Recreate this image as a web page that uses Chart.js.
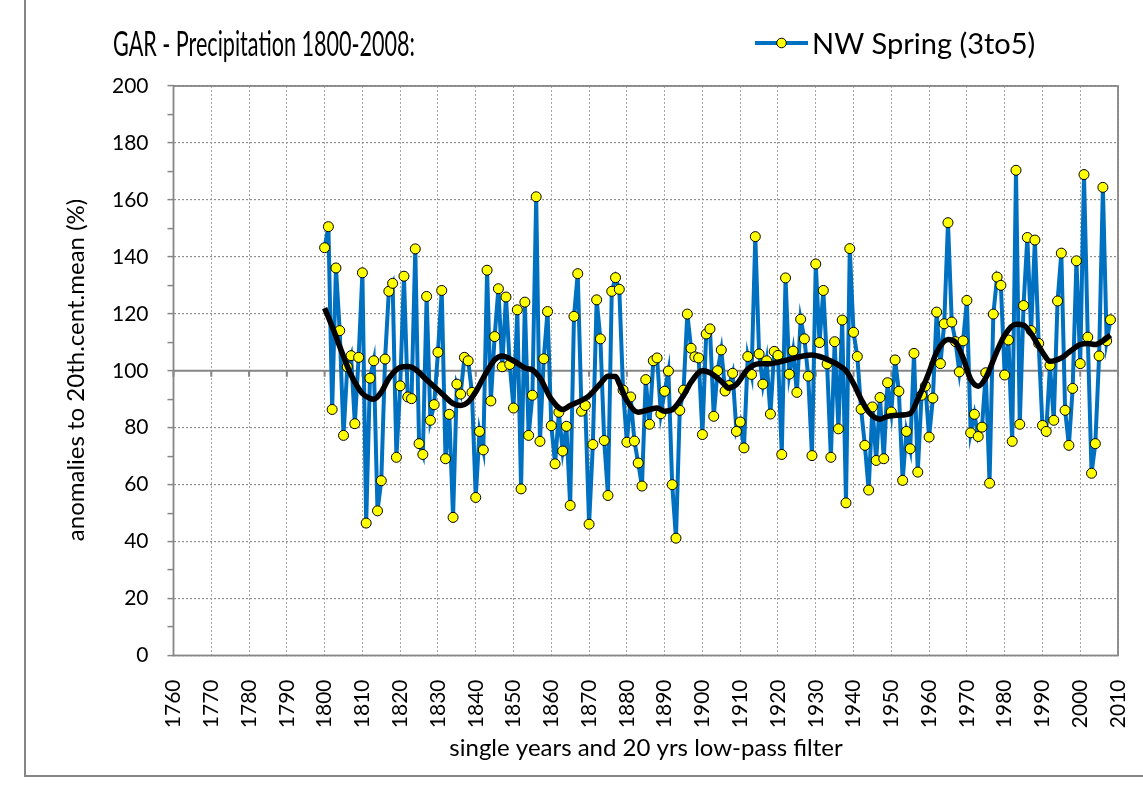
<!DOCTYPE html>
<html><head><meta charset="utf-8">
<script src="https://cdn.jsdelivr.net/npm/chart.js@4/dist/chart.umd.min.js"></script>
<style>
html,body{margin:0;padding:0;background:#fff;}
canvas{display:block;}
</style></head><body>
<canvas id="c" width="1143" height="796"></canvas>
<script>
// ---- data ----
const firstYear = 1800;
const precip = [
 143.2,150.6,86.4,136.1,114.1,77.3,101.4,105.3,81.4,104.7,   // 1800s
 134.4,46.5,97.4,103.5,50.8,61.4,104.1,127.9,130.7,69.6,     // 1810s
 94.7,133.2,90.8,90.2,142.8,74.4,70.6,126.1,82.6,88.1,       // 1820s
 106.5,128.2,69.1,84.7,48.5,95.3,91.8,104.7,103.5,92.4,      // 1830s
 55.5,78.7,72.2,135.3,89.4,112.0,128.8,101.4,125.9,102.2,    // 1840s
 86.9,121.4,58.5,124.1,77.3,91.4,161.1,75.2,104.2,120.8,     // 1850s
 80.7,67.3,85.4,71.8,80.5,52.7,119.1,134.1,85.8,87.8,        // 1860s
 46.1,74.1,124.9,111.2,75.5,56.2,127.9,132.7,128.6,93.2,     // 1870s
 74.9,90.8,75.3,67.6,59.5,96.9,81.2,103.5,104.5,84.9,        // 1880s
 92.8,99.9,60.0,41.2,86.1,93.2,119.9,107.9,104.9,104.5,      // 1890s
 77.6,112.9,114.7,84.0,100.0,107.3,92.9,94.8,99.1,78.7,      // 1900s
 82.0,72.9,105.0,98.7,147.1,105.9,95.3,103.5,84.8,106.8,     // 1910s
 105.4,70.6,132.6,98.8,106.9,92.4,118.1,111.2,98.1,70.2,     // 1920s
 137.5,109.9,128.2,102.4,69.6,110.2,79.6,117.8,53.6,142.9,   // 1930s
 113.5,105.0,86.5,73.8,58.1,87.3,68.5,90.6,69.1,95.8,        // 1940s
 85.5,103.8,92.8,61.5,78.7,72.6,106.1,64.4,91.4,94.6,        // 1950s
 76.7,90.4,120.6,102.5,116.5,152.0,117.1,110.2,99.6,110.5,   // 1960s
 124.7,78.2,84.7,76.9,80.2,99.3,60.5,119.9,132.9,130.0,      // 1970s
 98.5,110.8,75.2,170.4,81.2,122.9,146.8,114.1,145.9,109.6,   // 1980s
 80.8,78.7,101.9,82.6,124.5,141.3,86.1,73.8,93.8,138.6,      // 1990s
 102.5,168.9,111.8,64.0,74.4,105.2,164.4,110.5,117.9         // 2000-2008
];
const years = precip.map((v, i) => firstYear + i);

// 20 yrs low-pass filter
const smoothYears = [1800,1802,1805,1807,1810,1812,1813,1815,1817,1820,1822,1824,1827,1831,1834,1836,1838,1840,1842,1845,1847,1850,1853,1855,1857,1860,1863,1865,1868,1870,1873,1875,1877,1878,1880,1883,1886,1888,1890,1892,1895,1897,1900,1902,1905,1907,1909,1912,1915,1918,1920,1923,1926,1929,1931,1933,1936,1938,1940,1942,1944,1947,1949,1952,1955,1957,1960,1962,1965,1967,1969,1971,1973,1975,1978,1980,1983,1985,1987,1990,1992,1995,1997,2000,2002,2004,2006,2008];
const smoothValues = [122,115.5,105,98.5,92,90.3,90,92.5,97.3,101.2,101.5,100.5,96.8,92,88.5,87.8,89,92.6,97.5,103.8,105.2,103.5,101,100.3,97.5,90,86.4,87.8,89.6,91.2,95.5,98.1,98,95.5,89.5,85.4,86.4,86.9,85.8,86.3,91.3,96,100,99.3,96.3,94,95.2,100.5,102.5,102.5,103,104,105,105.5,105,104,102,100,95.5,90,85.5,83,84,84.4,85,90,99.5,106.5,111,110,104.5,97,94.6,97.5,107,112.5,116.3,116,113,106.5,103.3,104.5,106.5,109.2,109.6,109.2,110.5,112.5];

const xTickLabels = [1760,1770,1780,1790,1800,1810,1820,1830,1840,1850,1860,1870,1880,1890,1900,1910,1920,1930,1940,1950,1960,1970,1980,1990,2000,2010];
const yTickLabels = [0,20,40,60,80,100,120,140,160,180,200];
const yMinorTicks = [10,30,50,70,90,110,130,150,170,190];

const titleText = 'GAR - Precipitation 1800-2008:';
const seriesName = 'NW Spring (3to5)';
const xTitle = 'single years and 20 yrs low-pass filter';
const yTitle = 'anomalies to 20th.cent.mean (%)';

const FONT = 'Lato, "Open Sans", sans-serif';
const GREY = '#868686';

const decor = {
  id: 'decor',
  beforeDatasetsDraw(chart) {
    const {ctx, chartArea: a, scales: {x, y}} = chart;
    ctx.save();
    const y100 = y.getPixelForValue(100);
    ctx.strokeStyle = GREY;
    ctx.lineWidth = 2;
    ctx.beginPath();
    ctx.moveTo(a.left, y100); ctx.lineTo(a.right, y100);
    xTickLabels.forEach(v => {
      const px = x.getPixelForValue(v);
      ctx.moveTo(px, y100); ctx.lineTo(px, y100 + 6);
    });
    ctx.stroke();
    ctx.lineWidth = 1.8;
    ctx.strokeRect(a.left, a.top, a.right - a.left, a.bottom - a.top);
    ctx.restore();
  },
  afterDraw(chart) {
    const {ctx} = chart;
    ctx.save();
    ctx.fillStyle = '#000';
    ctx.textBaseline = 'alphabetic';
    ctx.textAlign = 'left';
    ctx.font = '34px ' + FONT;
    ctx.fillText(titleText, 113, 56, 302);
    // legend
    ctx.strokeStyle = '#0070C0';
    ctx.lineWidth = 4;
    ctx.beginPath(); ctx.moveTo(755, 43); ctx.lineTo(808, 43); ctx.stroke();
    ctx.beginPath(); ctx.arc(781.5, 43, 4.8, 0, Math.PI * 2);
    ctx.fillStyle = '#FFFF00'; ctx.fill();
    ctx.strokeStyle = '#000'; ctx.lineWidth = 1; ctx.stroke();
    ctx.fillStyle = '#000';
    ctx.font = '29px ' + FONT;
    ctx.fillText(seriesName, 812, 54, 224);
    // axis titles
    ctx.font = '24px ' + FONT;
    ctx.textAlign = 'center';
    ctx.fillText(xTitle, 646, 756, 400);
    ctx.translate(76, 370);
    ctx.rotate(-Math.PI / 2);
    ctx.textBaseline = 'middle';
    ctx.fillText(yTitle, 0, 0, 380);
    ctx.restore();
    // outer frame
    ctx.save();
    ctx.strokeStyle = GREY;
    ctx.lineWidth = 2;
    ctx.beginPath();
    ctx.moveTo(25, 0); ctx.lineTo(25, 776); ctx.lineTo(1143, 776);
    ctx.stroke();
    ctx.restore();
  }
};

new Chart(document.getElementById('c'), {
  type: 'line',
  data: {
    datasets: [
      {
        label: seriesName,
        data: years.map((yr, i) => ({x: yr, y: precip[i]})),
        borderColor: '#0070C0',
        borderWidth: 4,
        pointRadius: 5,
        pointBackgroundColor: '#FFFF00',
        pointBorderColor: '#000',
        pointBorderWidth: 1,
        tension: 0,
        order: 2
      },
      {
        label: '20 yrs low-pass filter',
        data: smoothYears.map((yr, i) => ({x: yr, y: smoothValues[i]})),
        borderColor: '#000',
        borderWidth: 5.5,
        pointRadius: 0,
        cubicInterpolationMode: 'monotone',
        order: 1
      }
    ]
  },
  options: {
    responsive: false,
    animation: false,
    layout: {padding: {top: 86, right: 25, left: 0, bottom: 0}},
    plugins: {legend: {display: false}, title: {display: false}, tooltip: {enabled: false}},
    scales: {
      x: {
        type: 'linear', min: 1760, max: 2010,
        afterBuildTicks: s => { s.ticks = xTickLabels.map(v => ({value: v})); },
        afterFit: s => { s.height = 796 - 655.5; s.paddingLeft = 0; s.paddingRight = 0; },
        ticks: {maxRotation: 90, minRotation: 90, padding: 24, color: '#000',
                font: {family: FONT, size: 21}, callback: v => String(v)},
        grid: {color: '#a6a6a6', lineWidth: 1, drawTicks: false},
        border: {display: false, dash: [2, 2]}
      },
      y: {
        min: 0, max: 200,
        afterBuildTicks: s => { s.ticks = yTickLabels.concat(yMinorTicks).sort((a, b) => a - b).map(v => ({value: v})); },
        afterFit: s => { s.width = 173.5; s.paddingTop = 0; s.paddingBottom = 0; },
        ticks: {padding: 19, color: '#000', font: {family: FONT, size: 21},
                callback: v => (v % 20 === 0 ? String(v) : '')},
        grid: {color: c => (c.tick && c.tick.value % 20 === 0 ? '#8f8f8f' : 'rgba(0,0,0,0)'),
               lineWidth: 1.2, tickColor: GREY, tickLength: 6, tickWidth: 1.5},
        border: {display: false, dash: [2, 2]}
      }
    }
  },
  plugins: [decor]
});
</script>
</body></html>
